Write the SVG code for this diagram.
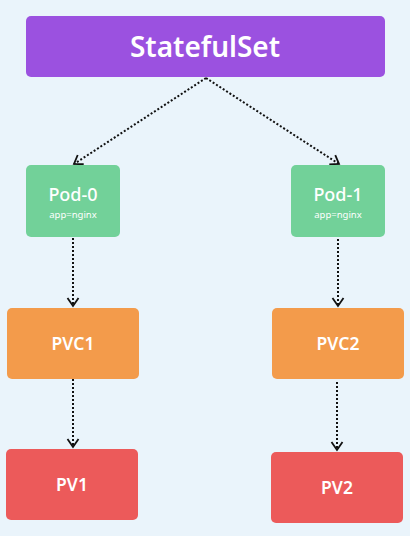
<svg xmlns="http://www.w3.org/2000/svg" width="410" height="536" viewBox="0 0 410 536">
<defs>
<marker id="arr" viewBox="0 0 14 14" refX="11" refY="7" markerWidth="14" markerHeight="14" markerUnits="userSpaceOnUse" orient="auto">
<path d="M3,1.5 L11,7 L3,12.5" fill="none" stroke="#111" stroke-width="1.8"/>
</marker>
</defs>
<style>
.t{font-family:"Noto Sans","Open Sans",sans-serif;fill:#fff;text-anchor:middle}
.c{fill:none;stroke:#111;stroke-width:2;stroke-dasharray:2 2;marker-end:url(#arr)}
</style>
<rect width="410" height="536" fill="#EAF4FB"/>
<g id="connectors">
<line class="c" x1="206" y1="78" x2="74" y2="164"/>
<line class="c" x1="206" y1="78" x2="339" y2="164"/>
<line class="c" x1="73" y1="238" x2="73" y2="306"/>
<line class="c" x1="338" y1="239" x2="338" y2="306"/>
<line class="c" x1="73" y1="379" x2="73" y2="447"/>
<line class="c" x1="337" y1="382" x2="337" y2="450"/>
</g>
<g id="statefulset">
<rect x="26" y="16" width="359" height="61" rx="5" fill="#9B51E0"/>
<text class="t" x="205" y="57" font-size="28" font-weight="600">StatefulSet</text>
</g>
<g id="pod0">
<rect x="26" y="165" width="94" height="72" rx="5" fill="#72D199"/>
<text class="t" x="73" y="201" font-size="18" font-weight="500">Pod-0</text>
<text class="t" x="73" y="218" font-size="9.5">app=nginx</text>
</g>
<g id="pod1">
<rect x="291" y="165" width="94" height="72" rx="5" fill="#72D199"/>
<text class="t" x="338" y="201" font-size="18" font-weight="500">Pod-1</text>
<text class="t" x="338" y="218" font-size="9.5">app=nginx</text>
</g>
<g id="pvc1">
<rect x="7" y="308" width="132" height="71" rx="5" fill="#F39B4B"/>
<text class="t" x="73" y="350" font-size="17.5" font-weight="600">PVC1</text>
</g>
<g id="pvc2">
<rect x="272" y="308" width="132" height="71" rx="5" fill="#F39B4B"/>
<text class="t" x="338" y="350" font-size="17.5" font-weight="600">PVC2</text>
</g>
<g id="pv1">
<rect x="6" y="449" width="132" height="71" rx="5" fill="#EC5A5A"/>
<text class="t" x="72" y="491" font-size="17.5" font-weight="600">PV1</text>
</g>
<g id="pv2">
<rect x="271" y="452" width="132" height="71" rx="5" fill="#EC5A5A"/>
<text class="t" x="337" y="494" font-size="17.5" font-weight="600">PV2</text>
</g>
</svg>
